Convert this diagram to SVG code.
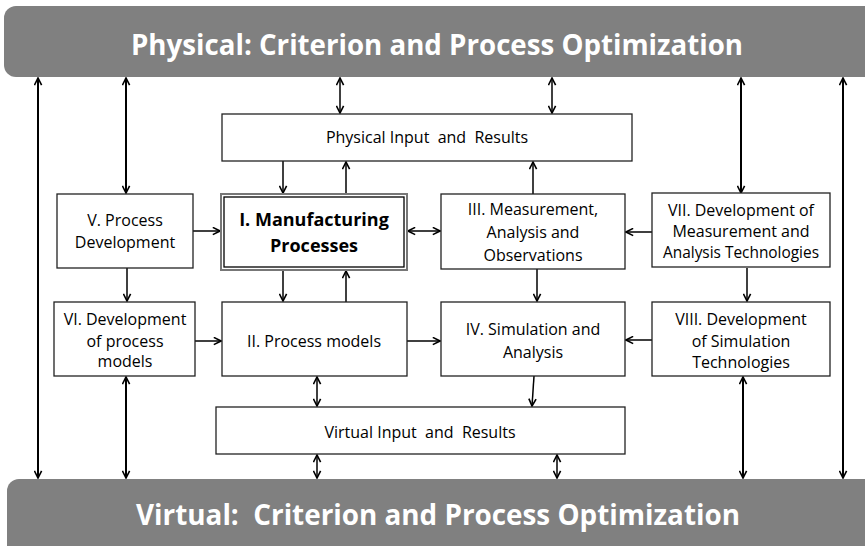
<svg xmlns="http://www.w3.org/2000/svg" width="865" height="546" viewBox="0 0 865 546">
<style>
.bar{fill:#808080}
.bt{font-family:"Open Sans","Liberation Sans",sans-serif;font-weight:bold;font-size:28px;fill:#fff;text-anchor:middle;white-space:pre}
.box{fill:#fff;stroke:#222;stroke-width:1.3}
.t{font-family:"Open Sans","Liberation Sans",sans-serif;font-size:16px;fill:#000;text-anchor:middle;white-space:pre}
.tb{font-family:"Open Sans","Liberation Sans",sans-serif;font-size:18px;font-weight:bold;fill:#000;text-anchor:middle}
.c{stroke:#000;stroke-width:1.5;fill:none;marker-end:url(#ah)}
.d{stroke:#000;stroke-width:1.5;fill:none;marker-end:url(#ah);marker-start:url(#ah)}
.L{stroke-width:2}
</style>
<defs>
<marker id="ah" viewBox="0 0 10 10" refX="9" refY="5" markerWidth="9" markerHeight="9" markerUnits="userSpaceOnUse" orient="auto-start-reverse">
<path d="M1,1 L9,5 L1,9" fill="none" stroke="#000" stroke-width="1.8"/>
</marker>
</defs>
<g id="top-bar">
<rect class="bar" x="4" y="6" width="880" height="71" rx="12"/>
<text class="bt" x="437" y="55" textLength="612" lengthAdjust="spacingAndGlyphs">Physical: Criterion and Process Optimization</text>
</g>
<g id="bottom-bar">
<rect class="bar" x="7" y="479" width="880" height="80" rx="12"/>
<text class="bt" x="438" y="525" textLength="604" lengthAdjust="spacingAndGlyphs">Virtual:  Criterion and Process Optimization</text>
</g>
<g id="connectors">
<path class="d L" d="M38,78 V478"/>
<path class="d L" d="M126,78 V193"/>
<path class="d" d="M340,78 V113"/>
<path class="d" d="M552,78 V113"/>
<path class="d L" d="M741,78 V193"/>
<path class="d L" d="M843,78 V478"/>
<path class="c" d="M283,161 V193"/>
<path class="c" d="M346,194 V162"/>
<path class="c" d="M533,194 V162"/>
<path class="c" d="M193,231 H220"/>
<path class="d" d="M408,231 H440"/>
<path class="c" d="M652,232 H626"/>
<path class="c" d="M127,268 V301"/>
<path class="c" d="M283,270 V301"/>
<path class="c" d="M346,302 V271"/>
<path class="c" d="M537,269 V301"/>
<path class="c" d="M747,268 V301"/>
<path class="c" d="M195,341 H221"/>
<path class="c" d="M407,341 H440"/>
<path class="c" d="M652,340 H626"/>
<path class="d L" d="M126,377 V478"/>
<path class="d" d="M317,377 V406"/>
<path class="c" d="M534,376 L532,406"/>
<path class="d L" d="M743,377 V478"/>
<path class="d" d="M317,455 V478"/>
<path class="d" d="M557,455 V478"/>
</g>
<g id="physical-io">
<rect class="box" x="222" y="114" width="410" height="47"/>
<text class="t" x="427" y="143">Physical Input  and  Results</text>
</g>
<g id="n1">
<rect x="221" y="194" width="186" height="76" fill="#fff" stroke="#777" stroke-width="2"/>
<rect x="224" y="197" width="180" height="70" fill="none" stroke="#000" stroke-width="1.3"/>
<text class="tb" x="314" y="226">I. Manufacturing</text>
<text class="tb" x="314" y="252">Processes</text>
</g>
<g id="n5">
<rect class="box" x="57" y="194" width="136" height="74"/>
<text class="t" x="125" y="226">V. Process</text>
<text class="t" x="125" y="248">Development</text>
</g>
<g id="n3">
<rect class="box" x="441" y="194" width="184" height="75"/>
<text class="t" x="533" y="215">III. Measurement,</text>
<text class="t" x="533" y="238">Analysis and</text>
<text class="t" x="533" y="261">Observations</text>
</g>
<g id="n7">
<rect class="box" x="652" y="193" width="178" height="74"/>
<text class="t" x="741" y="216" textLength="146" lengthAdjust="spacingAndGlyphs">VII. Development of</text>
<text class="t" x="741" y="237">Measurement and</text>
<text class="t" x="741" y="258" textLength="156" lengthAdjust="spacingAndGlyphs">Analysis Technologies</text>
</g>
<g id="n6">
<rect class="box" x="54" y="302" width="141" height="74"/>
<text class="t" x="125" y="325">VI. Development</text>
<text class="t" x="125" y="347">of process</text>
<text class="t" x="125" y="367">models</text>
</g>
<g id="n2">
<rect class="box" x="222" y="302" width="185" height="74"/>
<text class="t" x="314" y="347">II. Process models</text>
</g>
<g id="n4">
<rect class="box" x="441" y="302" width="184" height="74"/>
<text class="t" x="533" y="335">IV. Simulation and</text>
<text class="t" x="533" y="358">Analysis</text>
</g>
<g id="n8">
<rect class="box" x="652" y="302" width="178" height="74"/>
<text class="t" x="741" y="325">VIII. Development</text>
<text class="t" x="741" y="347">of Simulation</text>
<text class="t" x="741" y="368">Technologies</text>
</g>
<g id="virtual-io">
<rect class="box" x="216" y="407" width="409" height="47"/>
<text class="t" x="420" y="438">Virtual Input  and  Results</text>
</g>
</svg>
